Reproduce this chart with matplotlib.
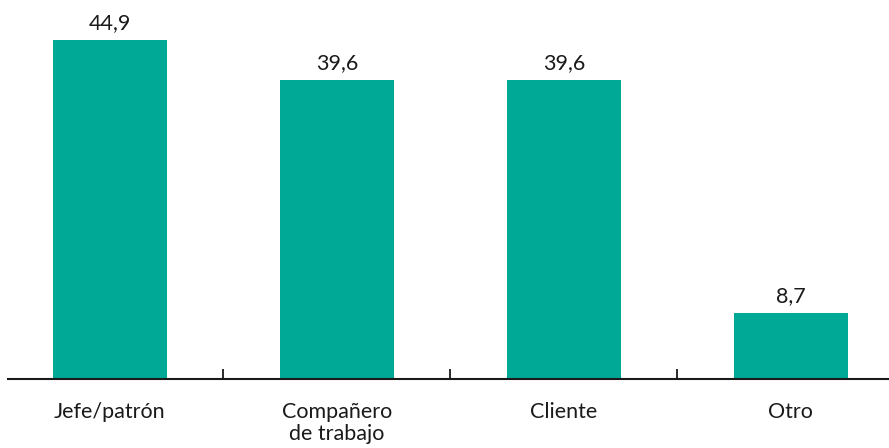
import matplotlib
matplotlib.use("Agg")
from matplotlib import pyplot as plt

categories = ["Jefe/patrón", "Compañero\nde trabajo", "Cliente", "Otro"]
values = [44.9, 39.6, 39.6, 8.7]
value_labels = ["44,9", "39,6", "39,6", "8,7"]

teal = "#00a896"
plt.rcParams["font.family"] = ["Lato", "DejaVu Sans"]

fig = plt.figure(figsize = (8.89, 4.48), dpi = 100)
ax = fig.add_axes([8 / 889, 69 / 448, 881 / 889, 379 / 448])

pos = list(range(len(categories)))
ax.bar(pos, values, width = 0.5, color = teal, zorder = 2)
for x, v, lab in zip(pos, values, value_labels):
	ax.annotate(lab, (x, v), xytext = (0, 5), textcoords = "offset points",
		ha = "center", va = "bottom", fontsize = 15.5, color = "#1a1a1a")

ax.set_xlim(-0.449, 3.432)
ax.set_ylim(0, 50.2)
for s in ["top", "right", "left"]:
	ax.spines[s].set_visible(False)
ax.spines["bottom"].set_linewidth(1.5)
ax.spines["bottom"].set_color("#1a1a1a")
ax.set_yticks([])

ax.set_xticks(pos)
ax.set_xticklabels(categories, fontsize = 15.5, color = "#1a1a1a", linespacing = 1.15, va = "top")
ax.tick_params(axis = "x", which = "major", length = 0, pad = 16.5)
ax.set_xticks([0.5, 1.5, 2.5], minor = True)
ax.tick_params(axis = "x", which = "minor", direction = "in", length = 7, width = 1.3, color = "#1a1a1a")

fig.savefig("out.png", dpi = 100)
